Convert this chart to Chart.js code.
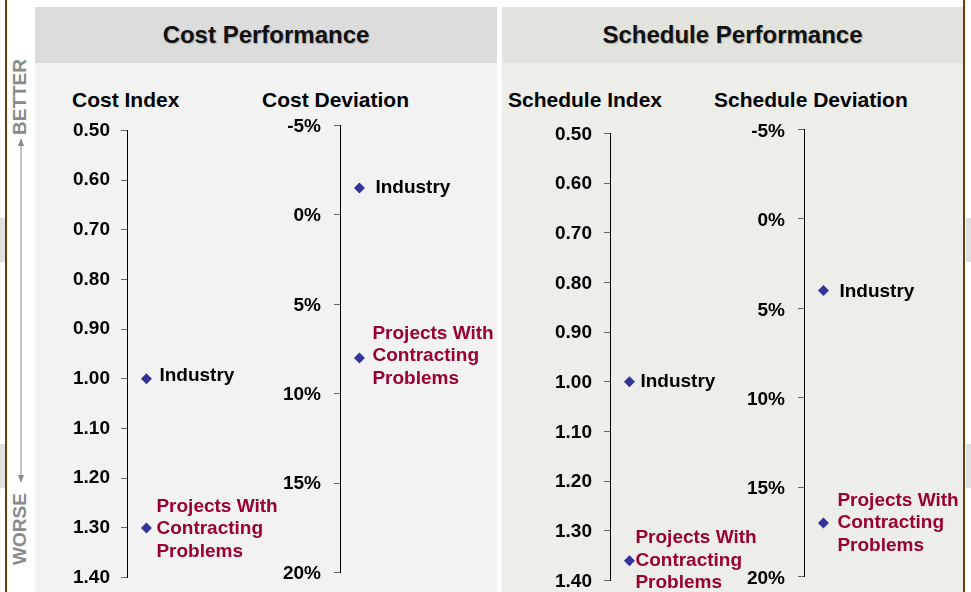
<!DOCTYPE html>
<html><head><meta charset="utf-8">
<script src="https://cdn.jsdelivr.net/npm/chart.js@4/dist/chart.umd.min.js"></script>
<style>
html,body{margin:0;padding:0;background:#fff;width:971px;height:592px;overflow:hidden;font-family:"Liberation Sans",Arial,sans-serif;}
#root{position:relative;width:971px;height:592px;overflow:hidden;}
.abs{position:absolute;}
.hdr{position:absolute;font-weight:bold;font-size:24px;color:#111;text-align:center;line-height:56px;text-shadow:1px 1px 1px rgba(0,0,0,0.25);}
.atitle{position:absolute;font-weight:bold;font-size:21px;color:#000;line-height:24px;white-space:nowrap;}
.side{position:absolute;width:100px;height:22px;line-height:22px;text-align:center;font-weight:bold;font-size:19px;color:#8a8a8a;transform:rotate(-90deg);}
canvas{position:absolute;}
</style></head>
<body><div id="root">
<div class="abs" style="left:0;top:218px;width:5px;height:44px;background:#e0e0e0"></div>
<div class="abs" style="left:0;top:444px;width:5px;height:44px;background:#e0e0e0"></div>
<div class="abs" style="left:966px;top:218px;width:5px;height:44px;background:#e0e0e0"></div>
<div class="abs" style="left:966px;top:444px;width:5px;height:44px;background:#e0e0e0"></div>
<div class="abs" style="left:5px;top:0;width:2px;height:592px;background:#6e3c0a"></div>
<div class="abs" style="left:963px;top:0;width:2px;height:592px;background:#6e3c0a"></div>

<div class="abs" style="left:35px;top:7px;width:462px;height:56px;background:#dcdcdc"></div>
<div class="abs" style="left:35px;top:63px;width:462px;height:529px;background:#f2f2f2"></div>
<div class="abs" style="left:502px;top:7px;width:461px;height:56px;background:#e3e3de"></div>
<div class="abs" style="left:502px;top:63px;width:461px;height:529px;background:#ededea"></div>

<div class="hdr" style="left:35px;top:7px;width:462px;">Cost Performance</div>
<div class="hdr" style="left:502px;top:7px;width:461px;">Schedule Performance</div>

<div class="atitle" style="left:72px;top:88px;">Cost Index</div>
<div class="atitle" style="left:262px;top:88px;">Cost Deviation</div>
<div class="atitle" style="left:508px;top:88px;">Schedule Index</div>
<div class="atitle" style="left:714px;top:88px;">Schedule Deviation</div>

<div class="side" style="left:-30px;top:86px;">BETTER</div>
<div class="side" style="left:-30px;top:518px;">WORSE</div>
<svg class="abs" style="left:0;top:0" width="40" height="592">
  <line x1="21" y1="144" x2="21" y2="477" stroke="#8a8a8a" stroke-width="1"/>
  <polygon points="21,138 18,146 24,146" fill="#8a8a8a"/>
  <polygon points="21,483 18,475 24,475" fill="#8a8a8a"/>
</svg>

<canvas id="cCostIndex"></canvas>
<canvas id="cCostDev"></canvas>
<canvas id="cSchedIndex"></canvas>
<canvas id="cSchedDev"></canvas>
</div>
<script>
// ---- data ----
const seriesLabels = [['Industry'], ['Projects With', 'Contracting', 'Problems']];
const seriesColors = ['#000000', '#990033'];
const costIndex = [1.00, 1.30];
const costDeviation = [-1.5, 8.0];
const scheduleIndex = [1.00, 1.36];
const scheduleDeviation = [4.0, 17.0];
const indexTicks = [0.5, 0.6, 0.7, 0.8, 0.9, 1.0, 1.1, 1.2, 1.3, 1.4];
const indexTickLabels = ['0.50', '0.60', '0.70', '0.80', '0.90', '1.00', '1.10', '1.20', '1.30', '1.40'];
const deviationTicks = [-5, 0, 5, 10, 15, 20];
const deviationTickLabels = ['-5%', '0%', '5%', '10%', '15%', '20%'];

const FONT = '"Liberation Sans", Arial, sans-serif';

const labelPlugin = {
  id: 'pointLabels',
  afterDatasetsDraw(chart, args, opts) {
    const ctx = chart.ctx;
    const meta = chart.getDatasetMeta(0);
    meta.data.forEach((pt, i) => {
      const lines = seriesLabels[i];
      const o = opts.offsets[i];
      ctx.save();
      ctx.font = 'bold 19px ' + FONT;
      ctx.fillStyle = seriesColors[i];
      ctx.textBaseline = 'middle';
      ctx.textAlign = 'left';
      const lh = 22.5;
      const y0 = pt.y + o.dy - (lines.length - 1) * lh / 2;
      lines.forEach((t, k) => ctx.fillText(t, pt.x + o.dx, y0 + k * lh));
      ctx.restore();
    });
  }
};

function buildConfig(cfg, PAD, SW) {
  return {
    type: 'scatter',
    data: {
      datasets: [{
        data: cfg.values.map(v => ({ x: 1, y: v })),
        pointStyle: 'rectRot',
        pointRadius: 5.5,
        pointHoverRadius: 5.5,
        backgroundColor: '#333399',
        borderColor: '#333399',
        borderWidth: 0
      }]
    },
    options: {
      responsive: false,
      maintainAspectRatio: false,
      animation: false,
      events: [],
      layout: { padding: { top: PAD, bottom: PAD, left: 0, right: 0 } },
      plugins: {
        legend: { display: false },
        tooltip: { enabled: false },
        pointLabels: { offsets: cfg.offsets }
      },
      scales: {
        x: { type: 'linear', display: false, min: 0, max: 10 },
        y: {
          type: 'linear', position: 'left', reverse: true,
          min: cfg.ticks[0], max: cfg.ticks[cfg.ticks.length - 1],
          afterBuildTicks: s => { s.ticks = cfg.ticks.map(v => ({ value: v })); },
          afterFit: s => { s.width = SW; },
          ticks: {
            callback: (v, i) => cfg.tickLabels[i],
            color: '#000',
            font: { family: FONT, size: 19, weight: 'bold' },
            padding: cfg.pad,
            labelOffset: cfg.labelOffset
          },
          grid: { display: true, drawOnChartArea: false, drawTicks: true, tickLength: 6, color: '#666', lineWidth: 1 },
          border: { display: true, color: '#000', width: 1 }
        }
      }
    },
    plugins: [labelPlugin]
  };
}

function makeChart(id, cfg) {
  const PAD = 10, SW = 70, AREA = 200;
  const canvas = document.getElementById(id);
  const span = cfg.bottom - cfg.top;
  let h = Math.round(span) + 2 * PAD + 30;
  function place(height, top) {
    canvas.width = SW + AREA;
    canvas.height = height;
    canvas.style.width = (SW + AREA) + 'px';
    canvas.style.height = height + 'px';
    canvas.style.left = (cfg.axisX - SW) + 'px';
    canvas.style.top = top + 'px';
  }
  place(h, 0);
  let chart = new Chart(canvas, buildConfig(cfg, PAD, SW));
  const ca = chart.chartArea;
  const extra = h - (ca.bottom - ca.top);
  const caTop = ca.top;
  chart.destroy();
  const h2 = Math.round(span + extra);
  place(h2, Math.round(cfg.top - caTop));
  chart = new Chart(canvas, buildConfig(cfg, PAD, SW));
  return chart;
}

makeChart('cCostIndex', { axisX: 127, top: 130, bottom: 577, values: costIndex, ticks: indexTicks, tickLabels: indexTickLabels, pad: 11, labelOffset: 0,
  offsets: [{ dx: 13, dy: -3 }, { dx: 10, dy: 1 }] });
makeChart('cCostDev', { axisX: 340, top: 125, bottom: 572, values: costDeviation, ticks: deviationTicks, tickLabels: deviationTickLabels, pad: 13, labelOffset: 1,
  offsets: [{ dx: 16, dy: 0 }, { dx: 13, dy: -2 }] });
makeChart('cSchedIndex', { axisX: 610, top: 133, bottom: 580, values: scheduleIndex, ticks: indexTicks, tickLabels: indexTickLabels, pad: 12, labelOffset: 1,
  offsets: [{ dx: 11, dy: 0 }, { dx: 6, dy: 0 }] });
makeChart('cSchedDev', { axisX: 804, top: 129, bottom: 576, values: scheduleDeviation, ticks: deviationTicks, tickLabels: deviationTickLabels, pad: 13, labelOffset: 2,
  offsets: [{ dx: 16, dy: 1 }, { dx: 14, dy: 0 }] });
</script>
</body></html>
